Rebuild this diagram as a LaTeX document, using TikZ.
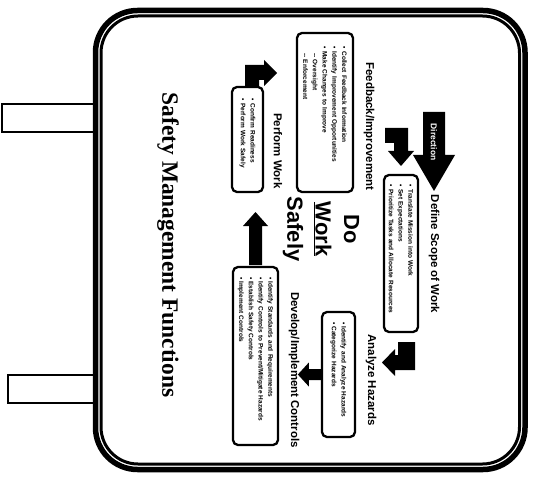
\documentclass[tikz,border=0pt]{standalone}
\usepackage{fontspec}
\setmainfont{Liberation Serif}
\newfontfamily\sansfam{Liberation Sans}
\begin{document}
\begin{tikzpicture}[x=1bp,y=-1bp,
  post/.style={draw=black, line width=2bp, fill=white},
  fbox/.style={draw=black, line width=2.3bp, rounded corners=5bp, rotate=-90, inner sep=0pt, align=left,
    font=\sansfam\bfseries\fontsize{6.5}{9.8}\selectfont},
  ftitle/.style={rotate=-90, inner sep=0pt, font=\sansfam\bfseries\fontsize{11.5}{12}\selectfont},
  blockarrow/.style={fill=black, draw=none}
]
\useasboundingbox (0,0) rectangle (535,477);
% posts
\draw[post] (2,104) rectangle (94,132);
\draw[post] (8,375) rectangle (94,403);
% frame
\draw[line width=5.5bp, rounded corners=42bp, fill=white] (95.5,10.5) rectangle (525,469.5);
\draw[line width=3bp, rounded corners=37bp] (101,16) rectangle (519.5,464);

% title
\node[rotate=-90, inner sep=0pt, font=\bfseries\fontsize{23.5}{28}\selectfont] (title) at (168,245) {Safety Management Functions};

% center text
\node[rotate=-90, inner sep=0pt, align=center, font=\sansfam\bfseries\fontsize{22}{28.5}\selectfont] (dws) at (321,229) {Do\\ \underline{Work}\\ Safely};

% boxes
\node[fbox, minimum width=159bp, minimum height=56bp, text width=131bp] (fb) at (325,112.5)
  {\textbullet\ Collect Feedback Information\\ \mbox{\textbullet\ Identify Improvement Opportunities}\\ \textbullet\ Make Changes to Improve\\ \quad -- Oversight\\ \quad -- Enforcement};
\node[ftitle] (fbt) at (369,126.5) {Feedback/Improvement};

\node[fbox, minimum width=105bp, minimum height=31bp, text width=81bp] (pw) at (247.5,139.5)
  {\textbullet\ Confirm Readiness\\ \textbullet\ Perform Work Safely};
\node[ftitle] (pwt) at (278,151) {Perform Work};

\node[fbox, minimum width=157bp, minimum height=34bp, text width=137bp] (ds) at (401,253.5)
  {\mbox{\textbullet\ Translate Mission into Work}\\ \textbullet\ Set Expectations\\ \mbox{\textbullet\ Prioritize Tasks and Allocate Resources}};
\node[ftitle] (dst) at (434,254) {Define Scope of Work};

\node[fbox, minimum width=125bp, minimum height=33bp, text width=105bp] (ah) at (338.5,374.5)
  {\mbox{\textbullet\ Identify and Analyze Hazards}\\ \textbullet\ Categorize Hazards};
\node[ftitle] (aht) at (371,380) {Analyze Hazards};

\node[fbox, minimum width=178bp, minimum height=45bp, text width=158bp] (dic) at (255.5,356)
  {\mbox{\textbullet\ Identify Standards and Requirements}\\ \mbox{\textbullet\ Identify Controls to Prevent/Mitigate Hazards}\\ \textbullet\ Establish Safety Controls\\ \textbullet\ Implement Controls};
\node[ftitle] (dict) at (294,370) {Develop/Implement Controls};

% block arrows
% mission arrow into Define Scope
\fill[blockarrow] (423,112) -- (445,112) -- (445,155) -- (455,155) -- (434,191) -- (413,155) -- (423,155) -- cycle;
\node[rotate=-90, inner sep=0pt, text=white, font=\sansfam\bfseries\fontsize{8.5}{9}\selectfont] (dir) at (434,142) {Direction};
% feedback -> define scope
\fill[blockarrow] (385,128) -- (408,128) -- (408,151) -- (414,151) -- (401,166) -- (388,151) -- (394,151) -- (394,143) -- (385,143) -- cycle;
% define scope -> analyze hazards
\fill[blockarrow] (398,342) -- (415,342) -- (415,370) -- (395,370) -- (395,376) -- (382,362.5) -- (395,349) -- (395,355) -- (398,355) -- cycle;
% analyze hazards -> develop controls
\fill[blockarrow] (ah.south) ++(0,-5.5) -- ++(-12,0) -- ++(0,-6.5) -- ++(-11,12) -- ++(11,12) -- ++(0,-6.5) -- ++(12,0) -- cycle;
% develop controls -> perform work
\fill[blockarrow] (249,265) -- (249,226) -- (243,226) -- (255.5,212) -- (268,226) -- (262,226) -- (262,265) -- cycle;
% perform work -> feedback
\fill[blockarrow] (245,88) -- (245,65) -- (264,65) -- (264,60) -- (277,73) -- (264,86) -- (264,80) -- (259,80) -- (259,88) -- cycle;
\end{tikzpicture}
\end{document}
